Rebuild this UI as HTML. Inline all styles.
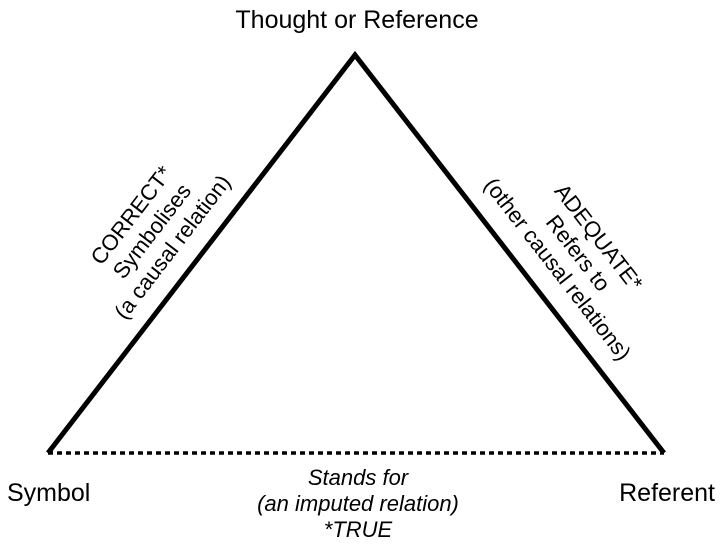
<!DOCTYPE html>
<html><head><meta charset="utf-8"><style>
html,body{margin:0;padding:0;background:#fff}
svg{display:block}
text{font-family:"Liberation Sans",Arial,sans-serif;fill:#000}
</style></head><body>
<svg width="724" height="546" viewBox="0 0 724 546" xmlns="http://www.w3.org/2000/svg">
<polyline points="48,453 355,55 664,453" fill="none" stroke="#000" stroke-width="5" stroke-linejoin="miter"/>
<line x1="48" y1="453" x2="664" y2="453" stroke="#000" stroke-width="3.5" stroke-dasharray="5,4"/>
<text x="357" y="28" font-size="25" text-anchor="middle">Thought or Reference</text>
<text x="7" y="501" font-size="25">Symbol</text>
<text x="715" y="501" font-size="25" text-anchor="end">Referent</text>
<g font-size="22" font-style="italic" text-anchor="middle">
<text x="358" y="485">Stands for</text>
<text x="358" y="511">(an imputed relation)</text>
<text x="358" y="537">*TRUE</text>
</g>
<g transform="translate(153,232) rotate(-52.4)" font-size="22" text-anchor="middle">
<text x="0" y="-20">CORRECT*</text>
<text x="0" y="6">Symbolises</text>
<text x="0" y="32">(a causal relation)</text>
</g>
<g transform="translate(577,254) rotate(52.2)" font-size="22" text-anchor="middle">
<text x="0" y="-20">ADEQUATE*</text>
<text x="0" y="6">Refers to</text>
<text x="0" y="32">(other causal relations)</text>
</g>
</svg>
</body></html>
